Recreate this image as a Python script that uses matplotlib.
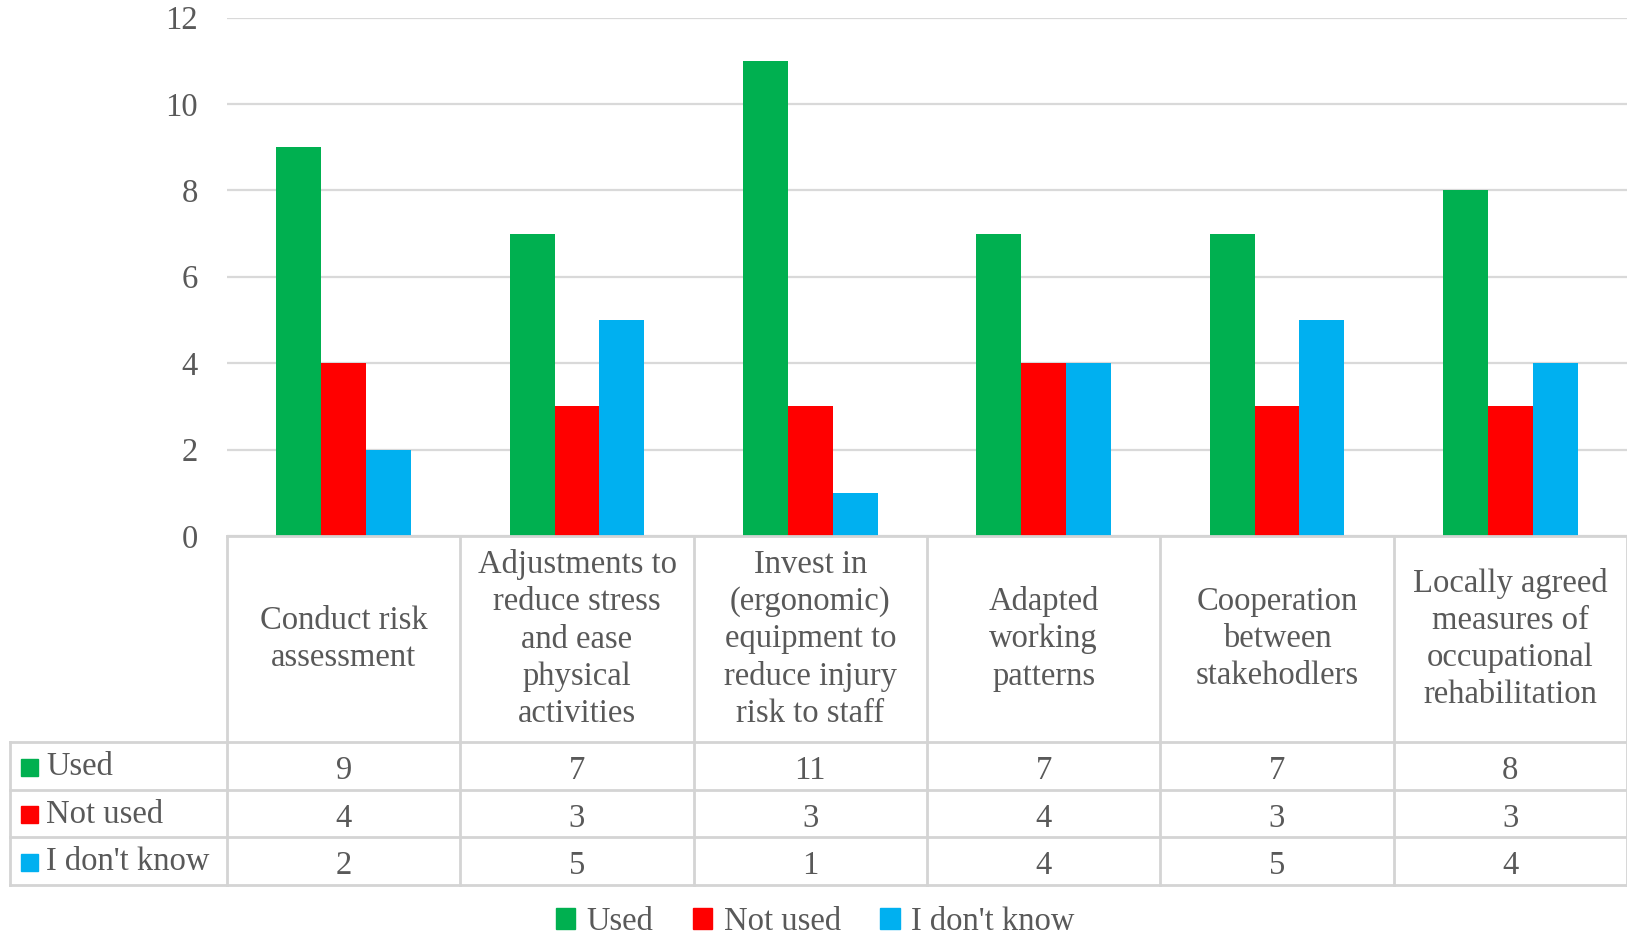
import matplotlib
matplotlib.use("Agg")
import matplotlib.pyplot as plt
import matplotlib.transforms as mtransforms
from matplotlib.patches import Rectangle
import numpy as np

categories = [
    "Conduct risk\nassessment",
    "Adjustments to\nreduce stress\nand ease\nphysical\nactivities",
    "Invest in\n(ergonomic)\nequipment to\nreduce injury\nrisk to staff",
    "Adapted\nworking\npatterns",
    "Cooperation\nbetween\nstakehodlers",
    "Locally agreed\nmeasures of\noccupational\nrehabilitation",
]
series_names = ["Used", "Not used", "I don't know"]
used = [9, 7, 11, 7, 7, 8]
not_used = [4, 3, 3, 4, 3, 3]
dont_know = [2, 5, 1, 4, 5, 4]
y_ticks = [0, 2, 4, 6, 8, 10, 12]

series = [used, not_used, dont_know]
colors = ["#00B050", "#FF0000", "#00B0F0"]
TEXT = "#595959"
GRID = "#D9D9D9"
FONT = "Liberation Serif"
FS = 23.5

W, H = 1627, 939
fig = plt.figure(figsize=(W / 100, H / 100), dpi=100)
plt.rcParams["font.family"] = FONT


def fy(px):
    return 1 - px / H


def fx(px):
    return px / W


plot_left, plot_right = 227, 1627
y_top, y_zero = 17.5, 536
ax = fig.add_axes([fx(plot_left), fy(y_zero), fx(plot_right - plot_left), (y_zero - y_top) / H])
ax.set_xlim(-0.5, len(categories) - 0.5)
ax.set_ylim(0, 12)

n = len(categories)
x = np.arange(n)
bw = 1 / (3 + 2.19)
for i, (vals, c) in enumerate(zip(series, colors)):
    ax.bar(x + (i - 1) * bw, vals, width=bw, color=c, zorder=3, linewidth=0)

ax.set_yticks(y_ticks)
ax.set_yticklabels([str(t) for t in y_ticks], fontsize=FS, color=TEXT, family=FONT)
ax.tick_params(axis="y", length=0, pad=21)
ax.set_xticks([])
ax.grid(axis="y", color=GRID, linewidth=1.6, zorder=0)
for s in ax.spines.values():
    s.set_visible(False)

# ---- data table ----
blend = mtransforms.blended_transform_factory(ax.transData, fig.transFigure)
row_lines = [536, 742, 790, 837, 885]
table_left = 10
lc = "#D4D4D4"
lw = 2.0

# horizontal lines
fig.add_artist(plt.Line2D([fx(plot_left), 1], [fy(row_lines[0])] * 2, color=lc, lw=lw, transform=fig.transFigure))
for yy in row_lines[1:]:
    fig.add_artist(plt.Line2D([fx(table_left), 1], [fy(yy)] * 2, color=lc, lw=lw, transform=fig.transFigure))
# vertical lines
for k in range(n + 1):
    xb = k - 0.5
    fig.add_artist(plt.Line2D([xb, xb], [fy(row_lines[0]), fy(row_lines[-1])], color=lc, lw=lw, transform=blend, clip_on=False))
fig.add_artist(plt.Line2D([fx(table_left)] * 2, [fy(row_lines[1]), fy(row_lines[-1])], color=lc, lw=lw, transform=fig.transFigure))

# header
hy = (row_lines[0] + row_lines[1]) / 2
for i, lab in enumerate(categories):
    fig.text(i, fy(hy), lab, transform=blend, ha="center", va="center", fontsize=FS,
             color=TEXT, family=FONT, linespacing=1.28, multialignment="center")

# rows
for r, (name, vals, c) in enumerate(zip(series_names, series, colors)):
    ry = (row_lines[r + 1] + row_lines[r + 2]) / 2
    sq = 17
    fig.add_artist(Rectangle((fx(21), fy(ry + 1 + sq / 2)), sq / W, sq / H, color=c, transform=fig.transFigure))
    fig.text(fx(46), fy(ry + 1), name, ha="left", va="center", fontsize=FS, color=TEXT, family=FONT)
    for i, v in enumerate(vals):
        fig.text(i, fy(ry + 5), str(v), transform=blend, ha="center", va="center", fontsize=FS,
                 color=TEXT, family=FONT)

# legend
handles = [Rectangle((0, 0), 1, 1, color=c) for c in colors]
leg = fig.legend(handles, series_names, loc="center", bbox_to_anchor=(fx(815), fy(922)), ncol=3,
                 frameon=False, fontsize=FS, handlelength=0.6, handleheight=0.6,
                 handletextpad=0.35, columnspacing=1.2, borderpad=0.1,
                 prop={"family": FONT, "size": FS})
for t in leg.get_texts():
    t.set_color(TEXT)

fig.savefig("out.png", dpi=100)
